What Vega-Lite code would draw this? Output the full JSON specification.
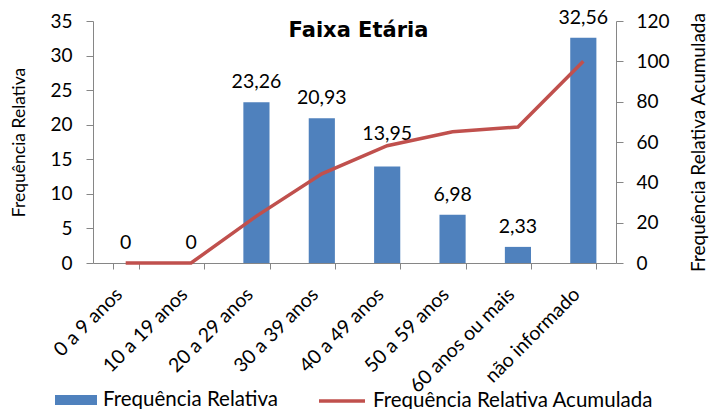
{
  "$schema": "https://vega.github.io/schema/vega-lite/v6.json",
  "autosize": {"type": "none"},
  "width": 523,
  "height": 242,
  "padding": {"left": 93, "top": 21, "right": 96, "bottom": 146},
  "background": "white",
  "title": {"text": "Faixa Etária", "frame": "group", "anchor": "middle", "offset": -16, "dy": 34, "dx": 4, "baseline": "alphabetic", "fontSize": 21, "fontWeight": "bold", "font": "DejaVu Sans", "color": "#000000"},
  "config": {
    "locale": {"number": {"decimal": ",", "thousands": ".", "grouping": [3], "currency": ["R$", ""]}},
    "view": {"stroke": null},
    "axis": {"grid": false, "domainColor": "#868686", "tickColor": "#868686", "labelFont": "Lato", "titleFont": "Lato", "labelColor": "#000000", "titleColor": "#000000", "titleFontWeight": "normal", "labelOverlap": false},
    "legend": {"labelFont": "Lato", "labelFontSize": 20.5, "labelColor": "#000000", "padding": 0, "labelLimit": 0}
  },
  "data": {"values": [
    {"faixa": "0 a 9 anos", "freq": 0, "acum": 0},
    {"faixa": "10 a 19 anos", "freq": 0, "acum": 0},
    {"faixa": "20 a 29 anos", "freq": 23.26, "acum": 23.26},
    {"faixa": "30 a 39 anos", "freq": 20.93, "acum": 44.19},
    {"faixa": "40 a 49 anos", "freq": 13.95, "acum": 58.14},
    {"faixa": "50 a 59 anos", "freq": 6.98, "acum": 65.12},
    {"faixa": "60 anos ou mais", "freq": 2.33, "acum": 67.44},
    {"faixa": "não informado", "freq": 32.56, "acum": 100}
  ]},
  "layer": [
    {
      "layer": [
        {
          "mark": {"type": "bar"},
          "encoding": {
            "x": {"field": "faixa", "type": "nominal", "sort": null, "scale": {"paddingInner": 0.6, "paddingOuter": 0.3},
              "axis": {"title": null, "labelAngle": -45, "labelAlign": "right", "labelBaseline": "middle", "labelFontSize": 19.5, "labelOverlap": false, "labelOffset": -7, "ticks": true, "tickBand": "extent", "tickSize": 6, "domain": true, "labelPadding": 22}},
            "y": {"field": "freq", "type": "quantitative", "scale": {"domain": [0, 35], "nice": false},
              "axis": {"title": "Frequência Relativa", "titleFontSize": 17.5, "labelFontSize": 19, "labelOverlap": false, "values": [0, 5, 10, 15, 20, 25, 30, 35], "tickSize": 7, "labelPadding": 14, "titlePadding": 21}},
            "color": {"datum": "Frequência Relativa", "scale": {"range": ["#4F81BD"]},
              "legend": {"title": null, "orient": "none", "legendX": -38, "legendY": 358, "symbolType": "M-1,-0.24H1V0.24H-1Z", "symbolSize": 1764, "symbolStrokeWidth": 0, "symbolOpacity": 1, "labelOffset": 6}}
          }
        },
        {
          "transform": [{"filter": "datum.freq != 13.95"}],
          "mark": {"type": "text", "dy": -20, "baseline": "middle", "font": "Lato", "fontSize": 19.5, "color": "#000000"},
          "encoding": {
            "x": {"field": "faixa", "type": "nominal", "sort": null},
            "y": {"field": "freq", "type": "quantitative", "scale": {"domain": [0, 35], "nice": false},
              "axis": {"title": "Frequência Relativa", "titleFontSize": 17.5, "labelFontSize": 19, "labelOverlap": false, "values": [0, 5, 10, 15, 20, 25, 30, 35], "tickSize": 7, "labelPadding": 14, "titlePadding": 21}},
            "text": {"field": "freq", "type": "quantitative", "format": ".2~f"}
          }
        },
        {
          "transform": [{"filter": "datum.freq == 13.95"}],
          "mark": {"type": "text", "dy": -33, "baseline": "middle", "font": "Lato", "fontSize": 19.5, "color": "#000000"},
          "encoding": {
            "x": {"field": "faixa", "type": "nominal", "sort": null},
            "y": {"field": "freq", "type": "quantitative", "scale": {"domain": [0, 35], "nice": false},
              "axis": {"title": "Frequência Relativa", "titleFontSize": 17.5, "labelFontSize": 19, "labelOverlap": false, "values": [0, 5, 10, 15, 20, 25, 30, 35], "tickSize": 7, "labelPadding": 14, "titlePadding": 21}},
            "text": {"field": "freq", "type": "quantitative", "format": ".2~f"}
          }
        }
      ]
    },
    {
      "mark": {"type": "line", "strokeWidth": 3.5},
      "encoding": {
        "x": {"field": "faixa", "type": "nominal", "sort": null},
        "y": {"field": "acum", "type": "quantitative", "scale": {"domain": [0, 120], "nice": false},
          "axis": {"orient": "right", "title": "Frequência Relativa Acumulada", "titleFontSize": 19, "labelFontSize": 19, "values": [0, 20, 40, 60, 80, 100, 120], "tickSize": 7, "labelPadding": 13, "titleAngle": 270, "titleBaseline": "top", "titlePadding": 20}},
        "color": {"datum": "Frequência Relativa Acumulada", "scale": {"range": ["#C0504D"]},
          "legend": {"title": null, "orient": "none", "legendX": 224, "legendY": 355, "symbolType": "stroke", "symbolSize": 2116, "symbolStrokeWidth": 3.5, "labelOffset": 6}}
      }
    }
  ],
  "resolve": {"scale": {"y": "independent", "color": "independent"}}
}
